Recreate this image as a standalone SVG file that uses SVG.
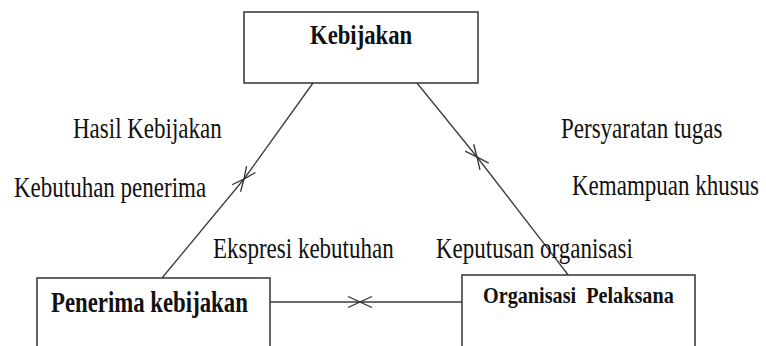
<svg xmlns="http://www.w3.org/2000/svg" width="766" height="346" viewBox="0 0 766 346">
  <defs>
    <marker id="open-arrow" viewBox="0 0 14 14" refX="13" refY="7" markerWidth="14" markerHeight="14" markerUnits="userSpaceOnUse" orient="auto">
      <path d="M1,1.5 L13,7 L1,12.5" fill="none" stroke="#333" stroke-width="1.3"/>
    </marker>
  </defs>
  <style>
    .box { fill: #fff; stroke: #333; stroke-width: 1.5; }
    .title { font-family: "Liberation Serif", "Times New Roman", serif; font-weight: bold; fill: #111; }
    .label { font-family: "Liberation Serif", "Times New Roman", serif; font-size: 23px; fill: #111; }
    .link { stroke: #3a3a3a; stroke-width: 1.3; fill: none; marker-end: url(#open-arrow); }
  </style>
  <rect width="766" height="346" fill="#fff"/>

  <g id="connectors">
    <line class="link" x1="313" y1="83" x2="244" y2="179"/>
    <line class="link" x1="162" y1="278" x2="244" y2="179"/>
    <line class="link" x1="417" y1="83" x2="477" y2="157"/>
    <line class="link" x1="569" y1="276" x2="477" y2="157"/>
    <line class="link" x1="270" y1="302" x2="360" y2="302"/>
    <line class="link" x1="462" y1="302" x2="360" y2="302"/>
  </g>

  <g id="kebijakan">
    <rect class="box" x="244" y="12" width="234" height="71" stroke-width="2"/>
    <text class="title" font-size="22.7" transform="translate(310,44) scale(1,1.18)">Kebijakan</text>
  </g>

  <g id="penerima-kebijakan">
    <rect class="box" x="37" y="278" width="233" height="80"/>
    <text class="title" font-size="22.8" transform="translate(51,312) scale(1,1.28)">Penerima kebijakan</text>
  </g>

  <g id="organisasi-pelaksana">
    <rect class="box" x="462" y="275" width="233" height="80"/>
    <text class="title" font-size="20.2" transform="translate(483,303) scale(1,1.12)" xml:space="preserve">Organisasi  Pelaksana</text>
  </g>

  <g id="labels">
    <text class="label" transform="translate(73,138) scale(1,1.25)">Hasil Kebijakan</text>
    <text class="label" transform="translate(14,197) scale(1,1.25)">Kebutuhan penerima</text>
    <text class="label" transform="translate(561,138) scale(1,1.25)">Persyaratan tugas</text>
    <text class="label" transform="translate(572,195) scale(1,1.25)">Kemampuan khusus</text>
    <text class="label" transform="translate(213,258) scale(1,1.25)">Ekspresi kebutuhan</text>
    <text class="label" transform="translate(436,258) scale(1,1.25)">Keputusan organisasi</text>
  </g>
</svg>
